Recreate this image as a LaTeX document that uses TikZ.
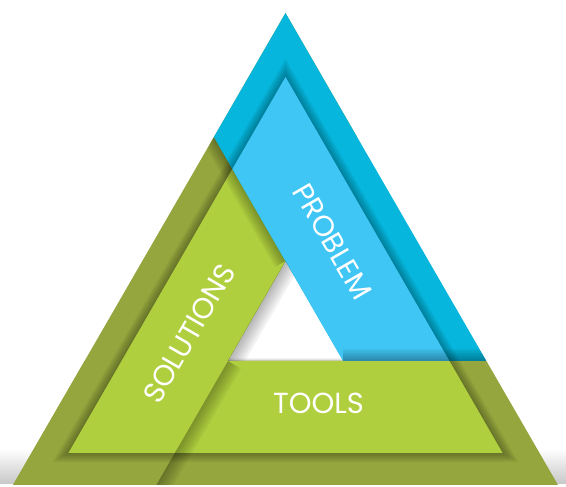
\documentclass[tikz,border=0pt]{standalone}
\usepackage{fontspec}
\setmainfont{Poppins}
\definecolor{probdark}{HTML}{06B6DC}
\definecolor{problight}{HTML}{40C6F4}
\definecolor{greendark}{HTML}{94A63D}
\definecolor{greenlight}{HTML}{AFCF3F}
\tikzset{
  label text/.style={text=white, font=\fontsize{29}{29}\selectfont, inner sep=0pt},
  soft shadow/.style={draw=black, opacity=0.05, line join=miter},
}
\begin{document}
\begin{tikzpicture}[x=1pt,y=1pt]
\useasboundingbox (0,0) rectangle (566,487);
\coordinate (top) at (285.5,474);
\coordinate (left) at (13,2);
\coordinate (right) at (558,2);
\coordinate (itop) at (285.5,410);
\coordinate (ileft) at (68.4,34);
\coordinate (iright) at (502.6,34);
\coordinate (htop) at (285.5,226);
\coordinate (hleft) at (227.8,126);
\coordinate (hright) at (343.2,126);
\coordinate (tl) at (84.6,126);
\coordinate (tr) at (486.4,126);
\coordinate (sb) at (156.2,2);
\coordinate (sr) at (357.1,350);
\coordinate (bl) at (213.9,350);
\shade[bottom color=black!22, top color=white] (0,3) rectangle (566,38);
% tools
\fill[greendark] (left) -- (right) -- (tr) -- (tl) -- cycle;
\begin{scope}
\clip (left) -- (right) -- (tr) -- (tl) -- cycle;
\foreach \w in {3,6,...,18} \draw[soft shadow, line width=\w pt] (ileft) -- (itop) -- (iright) -- cycle;
\fill[greenlight] (ileft) -- (itop) -- (iright) -- cycle;
\foreach \w in {5,10,...,30} \draw[soft shadow, line width=\w pt] (sb) -- (hleft);
\end{scope}
% solutions
\fill[greendark] (left) -- (sb) -- (sr) -- (top) -- cycle;
\begin{scope}
\clip (left) -- (sb) -- (sr) -- (top) -- cycle;
\foreach \w in {3,6,...,18} \draw[soft shadow, line width=\w pt] (ileft) -- (itop) -- (iright) -- cycle;
\fill[greenlight] (ileft) -- (itop) -- (iright) -- cycle;
\foreach \w in {4,8,...,24} \draw[soft shadow, line width=\w pt] (bl) -- (htop);
\end{scope}
% problem
\fill[probdark] (top) -- (tr) -- (hright) -- (bl) -- cycle;
\begin{scope}
\clip (top) -- (tr) -- (hright) -- (bl) -- cycle;
\foreach \w in {3,6,...,18} \draw[soft shadow, line width=\w pt] (ileft) -- (itop) -- (iright) -- cycle;
\fill[problight] (ileft) -- (itop) -- (iright) -- cycle;
\foreach \w in {4,8,...,24} \draw[soft shadow, line width=\w pt] (hright) -- (tr);
\end{scope}
% hole
\begin{scope}
\clip (hleft) -- (htop) -- (hright) -- cycle;
\foreach \w in {5,10,...,30} \draw[soft shadow, line width=\w pt] (hleft) -- (htop);
\foreach \w in {2,4,6} \draw[soft shadow, line width=\w pt] (hleft) -- (hright);
\end{scope}
\node[label text, rotate=-60] (problem) at (332.5,245.5) {PROBLEM};
\node[label text, rotate=60] (solutions) at (189,153.5) {SOLUTIONS};
\node[label text] (tools) at (318.5,83.5) {TOOLS};
\end{tikzpicture}
\end{document}
